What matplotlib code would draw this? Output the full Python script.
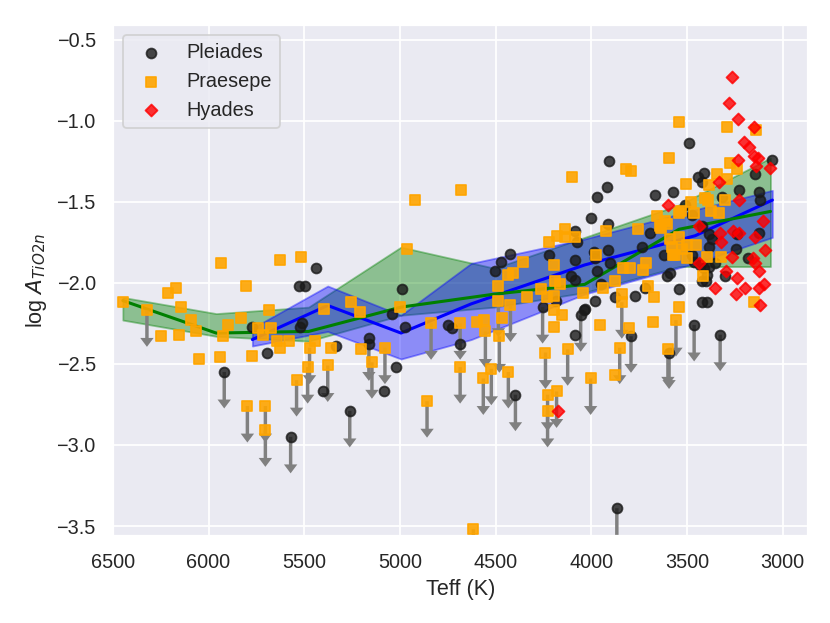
import matplotlib
matplotlib.use('Agg')
from matplotlib import pyplot as plt
import seaborn as sns
import numpy as np

# Pleiades: detections and upper limits
pl_teff = [5771, 5697, 5529, 5498, 5440, 5524, 5514, 5403, 5335, 5162, 5083, 5041, 4989, 4973, 5020,
           4748, 4727, 4685, 4501, 4469, 4422, 4223, 4086, 4076, 4086, 3987, 3981, 3971, 3913, 3903,
           4107, 4086, 3950, 3981, 3877, 4186, 4034, 4086, 4003, 3913, 3908, 3918, 3971, 3667, 3572,
           3488, 3410, 3441, 3420, 3053, 3142, 3226, 3121, 3116, 3315, 3509, 3473, 3693, 3383, 3368,
           3420, 3237, 3121, 3735, 3619, 3383, 3242, 3179, 3588, 3604, 3473, 3462, 3431, 3410, 3383,
           3352, 3394, 3420, 3399, 3772, 3719, 3541, 3420, 3394, 4039, 3300]
pl_a = [-2.27, -2.43, -2.02, -2.02, -1.91, -2.27, -2.25, -2.67, -2.39, -2.34, -2.67, -2.19, -2.04, -2.27, -2.52,
        -2.26, -2.28, -2.38, -1.93, -1.87, -1.82, -1.83, -1.68, -1.75, -1.86, -1.81, -1.85, -1.93, -1.80, -1.88,
        -1.96, -1.98, -2.01, -2.11, -2.09, -2.11, -2.16, -2.32, -1.60, -1.64, -1.25, -1.41, -1.47, -1.46, -1.44,
        -1.14, -1.32, -1.35, -1.38, -1.24, -1.33, -1.43, -1.44, -1.49, -1.47, -1.52, -1.58, -1.69, -1.70, -1.73,
        -1.65, -1.70, -1.69, -1.78, -1.83, -1.78, -1.79, -1.85, -1.94, -1.96, -1.83, -1.87, -1.89, -1.91, -1.90,
        -1.88, -1.95, -1.99, -1.99, -2.08, -2.03, -2.04, -2.12, -2.12, -2.17, -1.96]
pl_lim_teff = [5918, 5571, 5262, 5162, 4396, 4254, 4055, 3792, 3593, 3462, 3326, 3866]
pl_lim_a = [-2.55, -2.95, -2.79, -2.38, -2.69, -2.15, -2.20, -2.33, -2.43, -2.26, -2.32, -3.39]

# Praesepe
pr_teff = [6448, 6248, 6212, 6170, 6143, 6154, 6091, 6065, 6049, 5933, 5939, 5897, 5923, 5828, 5802,
           5771, 5739, 5713, 5682, 5671, 5640, 5624, 5577, 5629, 5519, 5445, 5398, 5361, 5256, 5209,
           5204, 4999, 4963, 4921, 4680, 4595, 4559, 4485, 4464, 4433, 4407, 4359, 4333, 4260, 4233,
           4197, 4197, 4191, 4165, 4218, 4181, 4139, 4139, 4086, 4197, 4155, 4197, 4045, 3976, 3924,
           3940, 3877, 3840, 3835, 3798, 3730, 3714, 3955, 3677, 3803, 3877, 4102, 3819, 3792, 3593,
           3656, 3614, 3604, 3541, 3756, 3635, 3572, 3703, 3672, 3541, 3541, 3289, 3137, 3273, 3237,
           3341, 3289, 3504, 3383, 3300, 3478, 3405, 3389, 3530, 3462, 3373, 3331, 3641, 3541, 3588,
           3578, 3525, 3499, 3452, 3562, 3499, 3394, 3321, 3415, 3147]
pr_a = [-2.12, -2.33, -2.06, -2.03, -2.15, -2.32, -2.23, -2.30, -2.47, -1.88, -2.46, -2.26, -2.33, -2.22, -2.02,
        -2.45, -2.28, -2.32, -2.17, -2.28, -2.36, -2.40, -2.36, -1.86, -1.84, -2.36, -2.16, -2.40, -2.12, -2.18,
        -2.41, -2.15, -1.79, -1.49, -1.43, -2.24, -2.23, -2.02, -2.22, -1.95, -1.94, -1.87, -2.09, -2.04, -2.09,
        -2.08, -1.89, -1.99, -2.01, -1.75, -1.71, -1.67, -1.72, -1.72, -2.17, -2.20, -2.27, -2.06, -1.83, -1.68,
        -2.03, -1.99, -2.07, -1.91, -1.91, -1.92, -1.88, -2.26, -2.24, -2.28, -2.57, -1.35, -1.30, -1.31, -1.23,
        -1.59, -1.62, -1.64, -1.57, -1.67, -1.66, -1.83, -2.02, -2.09, -2.15, -1.01, -1.04, -1.06, -1.26, -1.30,
        -1.33, -1.36, -1.39, -1.40, -1.49, -1.50, -1.48, -1.49, -1.56, -1.57, -1.56, -1.57, -1.65, -1.72, -1.73,
        -1.78, -1.79, -1.77, -1.77, -1.83, -1.85, -1.84, -1.84, -1.96, -2.12]
pr_lim_teff = [6322, 5797, 5703, 5703, 5540, 5482, 5472, 5377, 5146, 5078, 4858, 4837, 4685, 4685, 4553,
               4564, 4522, 4485, 4480, 4433, 4422, 4239, 4123, 4228, 4181, 4228, 4003, 3851, 3840, 3599,
               3557, 4616]
pr_lim_a = [-2.17, -2.76, -2.76, -2.91, -2.60, -2.52, -2.40, -2.51, -2.49, -2.40, -2.73, -2.25, -2.25, -2.52, -2.30,
            -2.59, -2.53, -2.11, -2.33, -2.55, -2.14, -2.43, -2.41, -2.69, -2.67, -2.79, -2.59, -2.40, -2.12, -2.41,
            -2.23, -3.52]

# Hyades
hy_teff = [3263, 3279, 3231, 3147, 3200, 3173, 3147, 3126, 3137, 3063, 3231, 3331, 3226, 3599, 3100,
           3436, 3326, 3257, 3226, 3321, 3142, 3090, 3263, 3436, 3152, 3142, 3121, 3294, 3237, 3352,
           3194, 3242, 3121, 3095, 3116, 4171]
hy_a = [-0.73, -0.89, -0.99, -1.04, -1.13, -1.16, -1.22, -1.23, -1.28, -1.29, -1.24, -1.38, -1.49, -1.52, -1.62,
        -1.65, -1.69, -1.68, -1.69, -1.75, -1.72, -1.80, -1.84, -1.88, -1.85, -1.88, -1.93, -1.93, -1.97, -2.03,
        -2.03, -2.07, -2.03, -2.01, -2.14, -2.79]

# binned trends (green and blue)
g_teff = [6448, 5960, 5477, 4994, 4506, 4034, 3541, 3063]
g_mid = [-2.11, -2.31, -2.30, -2.15, -2.07, -2.01, -1.67, -1.56]
g_hi = [-2.09, -2.19, -2.15, -1.78, -1.91, -1.72, -1.52, -1.23]
g_lo = [-2.23, -2.33, -2.36, -2.20, -2.15, -2.06, -1.90, -1.90]

b_teff = [5771, 5377, 4994, 4627, 4034, 3457, 3053]
b_mid = [-2.35, -2.14, -2.31, -2.13, -1.89, -1.71, -1.49]
b_hi = [-2.28, -2.02, -2.20, -1.88, -1.73, -1.55, -1.43]
b_lo = [-2.39, -2.30, -2.47, -2.35, -2.07, -1.88, -1.72]

sns.set_theme(style='darkgrid')
plt.rcParams['font.family'] = ['Liberation Sans', 'DejaVu Sans']

fig = plt.figure(figsize=(830 / 130, 623 / 130), dpi=130)
ax = fig.add_axes([0.136, 0.140, 0.837, 0.820])

ax.fill_between(g_teff, g_lo, g_hi, color='green', alpha=0.4, zorder=1)
ax.fill_between(b_teff, b_lo, b_hi, color='blue', alpha=0.4, zorder=1)
ax.plot(b_teff, b_mid, color='blue', lw=1.7, zorder=2)
ax.plot(g_teff, g_mid, color='green', lw=1.7, zorder=2)

# upper limits as downward arrows
for t, a in zip(pl_lim_teff + pr_lim_teff, pl_lim_a + pr_lim_a):
    ax.arrow(t, a, 0, -0.17, width=18, head_width=70, head_length=0.055,
             color='gray', lw=0, zorder=2.5)

ax.scatter(pl_teff + pl_lim_teff, pl_a + pl_lim_a, s=30, c='k', marker='o', alpha=0.8,
           zorder=3, label='Pleiades')
ax.scatter(pr_teff + pr_lim_teff, pr_a + pr_lim_a, s=26, c='orange', marker='s', alpha=0.9,
           zorder=3, label='Praesepe')
ax.scatter(hy_teff, hy_a, s=22, c='red', marker='D', alpha=0.8, zorder=3, label='Hyades')

ax.set_xlim(6500, 2869)
ax.set_ylim(-3.56, -0.41)
ax.set_yticks(np.arange(-3.5, -0.4, 0.5))
ax.set_xlabel('Teff (K)')
ax.set_ylabel(r'log $A_{TiO2n}$')
ax.legend(loc='upper left')

fig.savefig('out.png', dpi=130)
